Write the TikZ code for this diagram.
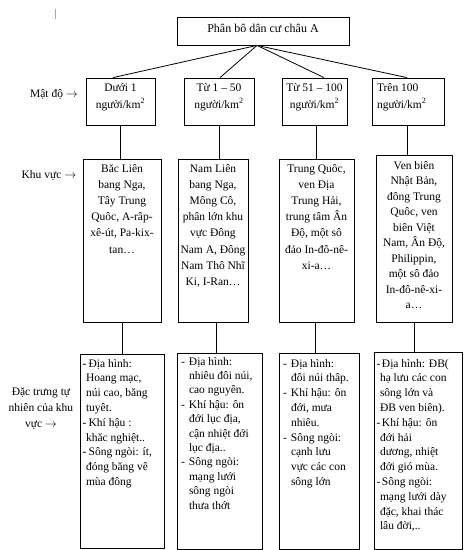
\documentclass[tikz,border=0pt]{standalone}
\usepackage{fontspec}
\setmainfont{Liberation Serif}
\newlength\mg
\newlength\ind
\newlength\ct
\newcommand\D{\hspace*{\mg}\makebox[\ind][l]{-}}
\newcommand\I{\hspace*{\ct}}
\newcommand\bx[4]{\parbox[c][#2pt][t]{#1pt}{\rule{0pt}{#3pt}#4}}
\newcommand\ksq{km\textsuperscript{2}}
\newcommand\ar{$\rightarrow$}
\begin{document}
\begin{tikzpicture}[x=1pt,y=-1pt,
  bx/.style={draw, line width=0.8pt, inner sep=0pt},
  conn/.style={draw, line width=0.8pt},
  lab/.style={inner sep=0pt, font=\fontsize{11.5}{16}\selectfont}]
\useasboundingbox (0,0) rectangle (470,550);
\draw[gray!70, line width=0.7pt] (55,9) -- (55,19);
% top
\node[bx] (top) at (263,31) {\bx{172}{28}{15}{\fontsize{12}{14}\selectfont\centering Phân bô dân cư châu A\par}};
% row 2
\node[bx] (d1) at (120.5,101.5) {\bx{69}{47}{13}{\fontsize{11.5}{17}\selectfont\centering Dưới 1\\người/\ksq\par}};
\node[bx] (d2) at (219,101.5) {\bx{70}{47}{13}{\fontsize{11.5}{17}\selectfont\centering Từ 1 – 50\\người/\ksq\par}};
\node[bx] (d3) at (314.5,101.5) {\bx{65}{47}{13}{\fontsize{11.5}{17}\selectfont\centering Từ 51 – 100\\người/\ksq\par}};
\node[bx] (d4) at (408,101.5) {\bx{72}{47}{13}{\fontsize{11.5}{17}\selectfont\raggedright\hspace*{5pt}Trên 100\\\hspace*{5pt}người/\ksq\par}};
% row 3
\node[bx] (r1) at (122,240.5) {\bx{78}{163}{13}{\fontsize{11.5}{16.2}\selectfont\centering Băc Liên\\bang Nga,\\Tây Trung\\Quôc, A-râp-\\xê-út, Pa-kix-\\tan…\par}};
\node[bx] (r2) at (213,240.5) {\bx{70}{163}{13}{\fontsize{11.5}{16.2}\selectfont\centering Nam Liên\\bang Nga,\\Mông Cô,\\phân lớn khu\\vực Đông\\Nam A, Đông\\Nam Thô Nhĩ\\Ki, I-Ran…\par}};
\node[bx] (r3) at (316.5,240.5) {\bx{75}{163}{13}{\fontsize{11.5}{16.2}\selectfont\centering Trung Quôc,\\ven Địa\\Trung Hải,\\trung tâm Ân\\Độ, một sô\\đảo In-đô-nê-\\xi-a…\par}};
\node[bx] (r4) at (414,238.5) {\bx{76}{167}{14}{\fontsize{11.5}{15.5}\selectfont\centering Ven biên\\Nhật Bản,\\đông Trung\\Quôc, ven\\biên Việt\\Nam, Ân Độ,\\Philippin,\\một sô đảo\\In-đô-nê-xi-\\a…\par}};
% row 4
\node[bx] (q1) at (122,451) {\bx{84}{194}{13}{\fontsize{11.5}{14.8}\selectfont\raggedright\setlength\mg{2.7pt}\setlength\ind{6pt}\setlength\ct{6pt}%
\D Địa hình:\\\I Hoang mạc,\\\I núi cao, băng\\\I tuyêt.\\\D Khí hậu :\\\I khăc nghiệt..\\\D Sông ngòi: ít,\\\I đóng băng vê\\\I mùa đông\par}};
\node[bx] (q2) at (219.5,451) {\bx{85}{196}{12}{\fontsize{11.5}{14.4}\selectfont\raggedright\setlength\mg{4pt}\setlength\ind{8pt}\setlength\ct{12pt}%
\D Địa hình:\\\I nhiêu đôi núi,\\\I cao nguyên.\\\D Khí hậu: ôn\\\I đới lục địa,\\\I cận nhiệt đới\\\I lục địa..\\\D Sông ngòi:\\\I mạng lưới\\\I sông ngòi\\\I thưa thớt\par}};
\node[bx] (q3) at (319,451) {\bx{80}{196}{14}{\fontsize{11.5}{14.8}\selectfont\raggedright\setlength\mg{4pt}\setlength\ind{8pt}\setlength\ct{12pt}%
\D Địa hình:\\\I đôi núi thâp.\\\D Khí hậu: ôn\\\I đới, mưa\\\I nhiêu.\\\D Sông ngòi:\\\I cạnh lưu\\\I vực các con\\\I sông lớn\par}};
\node[bx] (q4) at (418,450.5) {\bx{88}{197}{15}{\fontsize{11.5}{14.8}\selectfont\raggedright\setlength\mg{2.5pt}\setlength\ind{5.5pt}\setlength\ct{6pt}%
\D Địa hình: ĐB(\\\I hạ lưu các con\\\I sông lớn và\\\I ĐB ven biên).\\\D Khí hậu: ôn\\\I đới hải\\\I dương, nhiệt\\\I đới gió mùa.\\\D Sông ngòi:\\\I mạng lưới dày\\\I đặc, khai thác\\\I lâu đời,..\par}};
% left labels
\node[lab, anchor=base] (l1) at (54,97) {Mật độ \ar};
\node[lab, anchor=base] (l2) at (49,178) {Khu vực \ar};
\node[lab, align=center] (l3) at (41,409) {Đặc trưng tự\\nhiên của khu\\vực \ar};
% connectors
\draw[conn] ([xshift=-6pt]top.south) -- ([xshift=-7.5pt]d1.north);
\draw[conn] ([xshift=-6pt]top.south) -- ([xshift=1pt]d2.north);
\draw[conn] ([xshift=-6pt]top.south) -- ([xshift=9.5pt]d3.north);
\draw[conn] ([xshift=-6pt]top.south) -- ([xshift=-1pt]d4.north);
\draw[conn] (d1.south) -- (d1.south |- r1.north);
\draw[conn] (d2.south) -- (d2.south |- r2.north);
\draw[conn] ([xshift=1.5pt]d3.south) -- ([xshift=1.5pt]d3.south |- r3.north);
\draw[conn] ([xshift=-1pt]d4.south) -- ([xshift=-1pt]d4.south |- r4.north);
\draw[conn] (r1.south) -- (r1.south |- q1.north);
\draw[conn] ([xshift=3pt]r2.south) -- ([xshift=3pt]r2.south |- q2.north);
\draw[conn] ([xshift=-1.5pt]r3.south) -- ([xshift=-1.5pt]r3.south |- q3.north);
\draw[conn] (r4.south) -- (r4.south |- q4.north);
\end{tikzpicture}
\end{document}
